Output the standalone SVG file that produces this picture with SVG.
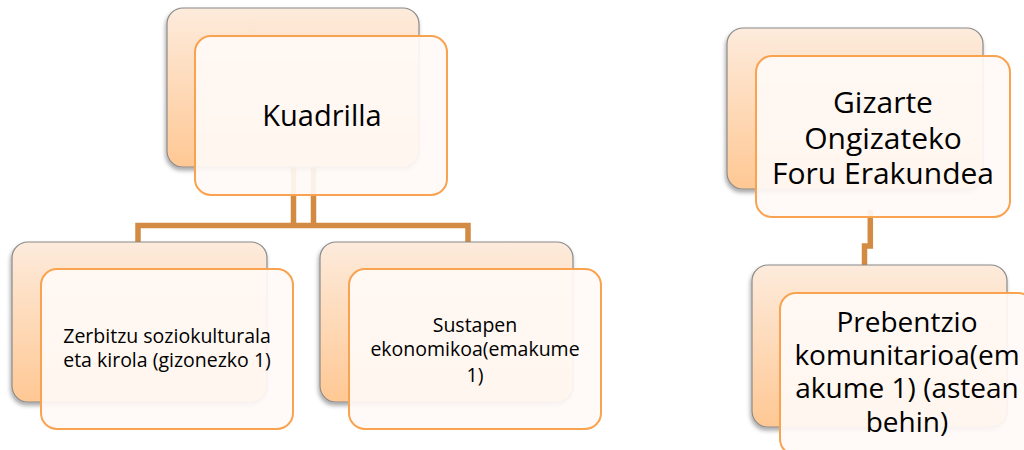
<svg xmlns="http://www.w3.org/2000/svg" width="1024" height="450" viewBox="0 0 1024 450">
<defs>
<linearGradient id="bg" x1="0" y1="0" x2="0" y2="1">
<stop offset="0" stop-color="#FDEBDC"/>
<stop offset="1" stop-color="#FFC894"/>
</linearGradient>
<filter id="sh" x="-10%" y="-10%" width="120%" height="130%">
<feDropShadow dx="-1" dy="3" stdDeviation="2" flood-color="#000" flood-opacity="0.35"/>
</filter>
<style>
.back{fill:url(#bg);stroke:#8A8A8A;stroke-width:1.2;filter:url(#sh)}
.front{fill:#FFFAF6;fill-opacity:0.92;stroke:#F9A24F;stroke-width:2}
.conn{fill:none;stroke:#D38A43;stroke-width:5.5}
text{font-family:"Open Sans","Liberation Sans",sans-serif;fill:#000;text-anchor:middle}
</style>
</defs>
<rect width="1024" height="450" fill="#fff"/>
<g id="connectors">
<path class="conn" d="M293.5 160 V225.5 M313.5 160 V225.5 M138 242 V225.5 H468 V242"/>
<path class="conn" d="M870.3 210 V246 H864.5 V265"/>
</g>
<g id="kuadrilla">
<rect class="back" x="167" y="8" width="252" height="159" rx="16"/>
<rect class="front" x="195" y="36" width="252" height="159" rx="16"/>
<text x="322" y="126" font-size="29">Kuadrilla</text>
</g>
<g id="zerbitzu">
<rect class="back" x="12" y="242" width="255" height="160" rx="16"/>
<rect class="front" x="41" y="269" width="252" height="160" rx="16"/>
<text x="167" y="343" font-size="19.5">Zerbitzu soziokulturala</text>
<text x="167" y="367" font-size="19.5">eta kirola (gizonezko 1)</text>
</g>
<g id="sustapen">
<rect class="back" x="320" y="242" width="253" height="160" rx="16"/>
<rect class="front" x="349" y="269" width="252" height="160" rx="16"/>
<text x="475" y="332" font-size="19.5">Sustapen</text>
<text x="475" y="356" font-size="19.5">ekonomikoa(emakume</text>
<text x="475" y="382" font-size="19.5">1)</text>
</g>
<g id="gizarte">
<rect class="back" x="727" y="28" width="256" height="161" rx="16"/>
<rect class="front" x="756" y="56" width="254" height="161" rx="16"/>
<text x="883" y="113" font-size="30">Gizarte</text>
<text x="883" y="149" font-size="30">Ongizateko</text>
<text x="883" y="184" font-size="30">Foru Erakundea</text>
</g>
<g id="prebentzio">
<rect class="back" x="752" y="265" width="255" height="162" rx="16"/>
<rect class="front" x="780" y="293" width="254" height="162" rx="16"/>
<text x="907" y="332" font-size="28">Prebentzio</text>
<text x="907" y="365" font-size="28">komunitarioa(em</text>
<text x="907" y="398" font-size="28">akume 1) (astean</text>
<text x="907" y="432" font-size="28">behin)</text>
</g>
</svg>
